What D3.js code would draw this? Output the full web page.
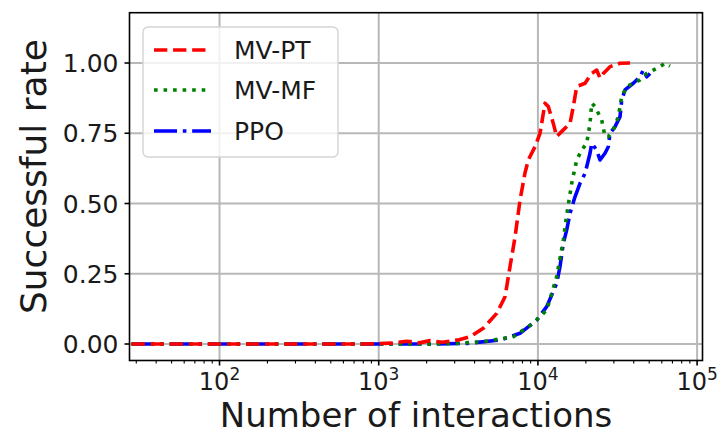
<!DOCTYPE html>
<html>
<head>
<meta charset="utf-8">
<script src="https://cdn.jsdelivr.net/npm/d3@7"></script>
<style>
  body { margin: 0; background: #ffffff; }
  svg text { font-family: "DejaVu Sans", sans-serif; fill: #1a1a1a; }
</style>
</head>
<body>
<svg id="chart" width="724" height="435"></svg>
<script>
// Success rate against number of environment interactions (log scale)
const mvptX = [28, 100, 300, 800, 1200, 1500, 1800, 2100, 2500, 2800, 3200, 3745, 4540, 5511, 6216, 6678, 7181, 7719, 8298, 8704, 9590, 10309, 11082, 11622, 12494, 13125, 14436, 15906, 16690, 17530, 19770, 21780, 23404, 24550, 25750, 28380, 32800, 37890];
const mvptY = [0, 0, 0, 0, 0.003, 0.01, 0.004, 0.012, 0.006, 0.01, 0.015, 0.026, 0.056, 0.109, 0.168, 0.275, 0.38, 0.512, 0.609, 0.655, 0.702, 0.75, 0.857, 0.845, 0.785, 0.738, 0.762, 0.785, 0.845, 0.916, 0.928, 0.963, 0.975, 0.946, 0.963, 0.987, 0.999, 1.0];

const mvmfX = [28, 300, 1000, 2000, 3000, 4540, 7008, 9357, 11359, 13125, 14436, 15170, 16310, 17530, 18840, 20250, 21250, 21780, 22840, 23950, 25170, 26390, 27680, 29760, 31990, 33600, 36130, 39740, 43780, 48240, 53070, 58480, 62850, 67560];
const mvmfY = [0, 0, 0, 0, 0.002, 0.008, 0.026, 0.074, 0.121, 0.24, 0.37, 0.46, 0.572, 0.655, 0.69, 0.714, 0.785, 0.857, 0.845, 0.821, 0.797, 0.738, 0.738, 0.762, 0.809, 0.88, 0.916, 0.928, 0.94, 0.963, 0.975, 0.987, 0.999, 0.989];

const ppoX = [28, 300, 1000, 2000, 3571, 5781, 7719, 9829, 11359, 13125, 13764, 14436, 15170, 15906, 17100, 18383, 19770, 21250, 21780, 23404, 24550, 26390, 27680, 28380, 30500, 32800, 33600, 35250, 39740, 43780, 45920, 48240, 50600];
const ppoY = [0, 0, 0, 0, 0.002, 0.014, 0.038, 0.085, 0.133, 0.216, 0.275, 0.358, 0.406, 0.465, 0.524, 0.572, 0.607, 0.679, 0.714, 0.69, 0.655, 0.679, 0.702, 0.75, 0.773, 0.809, 0.868, 0.904, 0.928, 0.951, 0.975, 0.951, 0.963];

const seriesNames = ["MV-PT", "MV-MF", "PPO"];
const seriesColors = ["#ff0000", "#008000", "#0000ff"];

const xMajorTicks = [100, 1000, 10000, 100000];
const xTickExponents = ["2", "3", "4", "5"];
const yTicks = [0, 0.25, 0.5, 0.75, 1.0];
const yTickLabels = ["0.00", "0.25", "0.50", "0.75", "1.00"];

const xTitle = "Number of interactions";
const yTitle = "Successful rate";

// ---- layout ----
const plot = { left: 129.5, right: 702.5, top: 12.7, bottom: 360.5 };
const LW = 3.6;
const dashes = [
  `${3.7 * LW},${1.6 * LW}`,                          // dashed
  `${1.0 * LW},${1.65 * LW}`,                         // dotted
  `${6.4 * LW},${1.6 * LW},${1.0 * LW},${1.6 * LW}`   // dash-dot
];

const svg = d3.select("#chart");

const x = d3.scaleLog().domain([27.2, 108100]).range([plot.left, plot.right]);
const y = d3.scaleLinear().domain([-0.0587, 1.179]).range([plot.bottom, plot.top]);

// minor ticks for the log axis
const xMinorTicks = [];
[10, 100, 1000, 10000].forEach(d => {
  for (let k = 2; k <= 9; k++) {
    const v = d * k;
    if (v >= x.domain()[0] && v <= x.domain()[1]) xMinorTicks.push(v);
  }
});

// ---- grid ----
const grid = svg.append("g").attr("stroke", "#b8b8b8").attr("stroke-width", 2);
grid.selectAll("line.vx").data(xMajorTicks).enter().append("line")
  .attr("x1", d => x(d)).attr("x2", d => x(d))
  .attr("y1", plot.top).attr("y2", plot.bottom);
grid.selectAll("line.hy").data(yTicks).enter().append("line")
  .attr("x1", plot.left).attr("x2", plot.right)
  .attr("y1", d => y(d)).attr("y2", d => y(d));

// ---- curves ----
svg.append("clipPath").attr("id", "plotClip").append("rect")
  .attr("x", plot.left).attr("y", plot.top)
  .attr("width", plot.right - plot.left).attr("height", plot.bottom - plot.top);

const series = [
  { xs: mvptX, ys: mvptY },
  { xs: mvmfX, ys: mvmfY },
  { xs: ppoX, ys: ppoY }
];

const line = d3.line().x(d => x(d[0])).y(d => y(d[1]));
const curves = svg.append("g").attr("clip-path", "url(#plotClip)");
// PPO underneath, then MV-MF, then MV-PT on top
[2, 1, 0].forEach(k => {
  const s = series[k];
  const pts = s.xs.map((v, j) => [v, s.ys[j]]);
  curves.append("path")
    .attr("d", line(pts))
    .attr("fill", "none")
    .attr("stroke", seriesColors[k])
    .attr("stroke-width", LW)
    .attr("stroke-dasharray", dashes[k])
    .attr("stroke-linejoin", "round");
});

// ---- axes ----
const axes = svg.append("g").attr("stroke", "#000").attr("stroke-width", 1.6);
axes.append("rect")
  .attr("x", plot.left).attr("y", plot.top)
  .attr("width", plot.right - plot.left).attr("height", plot.bottom - plot.top)
  .attr("fill", "none");

// x ticks
axes.selectAll("line.xmaj").data(xMajorTicks).enter().append("line")
  .attr("x1", d => x(d)).attr("x2", d => x(d))
  .attr("y1", plot.bottom).attr("y2", plot.bottom + 5);
axes.selectAll("line.xmin").data(xMinorTicks).enter().append("line")
  .attr("stroke-width", 1.1)
  .attr("x1", d => x(d)).attr("x2", d => x(d))
  .attr("y1", plot.bottom).attr("y2", plot.bottom + 3);
// y ticks
axes.selectAll("line.ytk").data(yTicks).enter().append("line")
  .attr("x1", plot.left - 5).attr("x2", plot.left)
  .attr("y1", d => y(d)).attr("y2", d => y(d));

// x tick labels: 10^n
const xl = svg.append("g").attr("font-size", 24);
xMajorTicks.forEach((v, i) => {
  const t = xl.append("text")
    .attr("x", x(v)).attr("y", plot.bottom + 29)
    .attr("text-anchor", "middle");
  t.append("tspan").text("10");
  t.append("tspan").attr("font-size", 17).attr("dy", -10).text(xTickExponents[i]);
});

// y tick labels
svg.append("g").attr("font-size", 25)
  .selectAll("text").data(yTicks).enter().append("text")
  .attr("x", plot.left - 11)
  .attr("y", d => y(d))
  .attr("dy", "0.36em")
  .attr("text-anchor", "end")
  .text((d, i) => yTickLabels[i]);

// axis titles
svg.append("text")
  .attr("x", (plot.left + plot.right) / 2)
  .attr("y", 427)
  .attr("text-anchor", "middle")
  .attr("font-size", 34)
  .text(xTitle);

svg.append("text")
  .attr("transform", `translate(46,${(plot.top + plot.bottom) / 2 - 10}) rotate(-90)`)
  .attr("text-anchor", "middle")
  .attr("font-size", 36)
  .text(yTitle);

// ---- legend ----
const legend = svg.append("g");
legend.append("rect")
  .attr("x", 143).attr("y", 27).attr("width", 195).attr("height", 130)
  .attr("rx", 5).attr("ry", 5)
  .attr("fill", "#ffffff").attr("fill-opacity", 0.8)
  .attr("stroke", "#d4d4d4").attr("stroke-width", 1.4);

const rowY = [50, 90, 131];
seriesNames.forEach((name, k) => {
  legend.append("line")
    .attr("x1", 154).attr("x2", 211)
    .attr("y1", rowY[k]).attr("y2", rowY[k])
    .attr("stroke", seriesColors[k])
    .attr("stroke-width", LW)
    .attr("stroke-dasharray", dashes[k]);
  legend.append("text")
    .attr("x", 234).attr("y", rowY[k])
    .attr("dy", "0.36em")
    .attr("font-size", 25)
    .text(name);
});
</script>
</body>
</html>
